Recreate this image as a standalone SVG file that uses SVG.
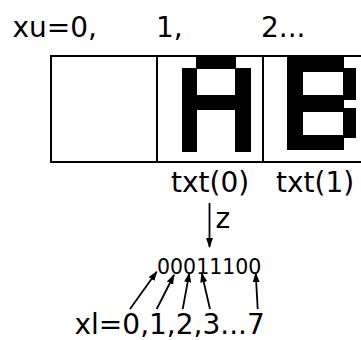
<svg xmlns="http://www.w3.org/2000/svg" width="361" height="340" viewBox="0 0 361 340">
<style>
.t{font-family:"DejaVu Sans",Verdana,sans-serif;font-size:28px;fill:#000}
.b{font-size:20.5px}
.box{fill:#fff;stroke:#000;stroke-width:2}
.px{fill:#000}
.c line{stroke:#000;stroke-width:1.8}
</style>
<defs>
<marker id="ah" markerUnits="userSpaceOnUse" markerWidth="10" markerHeight="7" refX="9" refY="3.5" orient="auto">
<path d="M0,0 L10,3.5 L0,7 z" fill="#000"/>
</marker>
</defs>
<rect width="361" height="340" fill="#fff"/>
<g id="labels-top">
<text class="t" x="12.5" y="37">xu=0,</text>
<text class="t" x="156" y="37">1,</text>
<text class="t" x="261" y="37">2...</text>
</g>
<g id="cell0"><rect class="box" x="51" y="56" width="106" height="106"/></g>
<g id="cell1">
<rect class="box" x="157" y="56" width="106" height="106"/>
<rect class="px" x="196" y="57" width="40" height="12"/>
<rect class="px" x="182" y="68" width="15" height="84"/>
<rect class="px" x="235" y="68" width="16" height="84"/>
<rect class="px" x="196" y="95" width="40" height="15"/>
<text class="t" x="171" y="192">txt(0)</text>
</g>
<g id="cell2">
<rect class="box" x="263" y="56" width="110" height="106"/>
<rect class="px" x="287" y="57" width="16" height="93"/>
<rect class="px" x="287" y="57" width="57" height="15"/>
<rect class="px" x="343" y="68" width="13" height="32"/>
<rect class="px" x="287" y="95" width="57" height="17"/>
<rect class="px" x="343" y="108" width="13" height="30"/>
<rect class="px" x="287" y="135" width="57" height="15"/>
<text class="t" x="276" y="192">txt(1)</text>
</g>
<g id="z-label"><text class="t" x="215.5" y="228">z</text></g>
<g id="bits"><text class="t b" x="157" y="273.5">00011100</text></g>
<g id="xl-label"><text class="t" x="74.5" y="333.5">xl=0,1,2,3...7</text></g>
<g id="connectors" class="c">
<line x1="209.5" y1="203" x2="209.5" y2="247" marker-end="url(#ah)"/>
<line x1="130" y1="309" x2="156.7" y2="271.7" marker-end="url(#ah)"/>
<line x1="156.7" y1="309" x2="174" y2="275" marker-end="url(#ah)"/>
<line x1="182.7" y1="309" x2="189.3" y2="273.3" marker-end="url(#ah)"/>
<line x1="210" y1="309" x2="201.7" y2="273.3" marker-end="url(#ah)"/>
<line x1="257.7" y1="309" x2="255.7" y2="273.3" marker-end="url(#ah)"/>
</g>
</svg>
